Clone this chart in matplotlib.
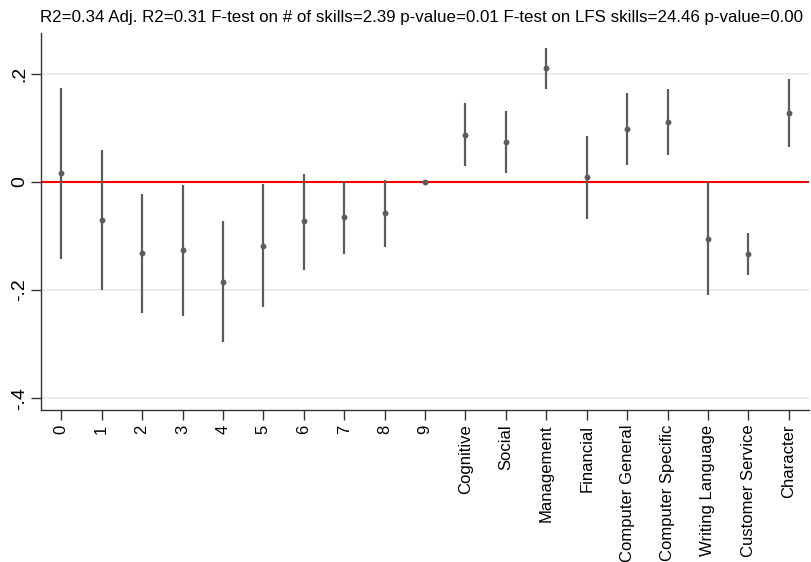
import matplotlib
matplotlib.use("Agg")
import matplotlib.pyplot as plt
import numpy as np

labels = ["0", "1", "2", "3", "4", "5", "6", "7", "8", "9",
          "Cognitive", "Social", "Management", "Financial",
          "Computer General", "Computer Specific", "Writing Language",
          "Customer Service", "Character"]
coef = [0.016, -0.070, -0.132, -0.126, -0.185, -0.118, -0.073, -0.065, -0.057, 0.0,
        0.087, 0.074, 0.211, 0.009, 0.098, 0.112, -0.106, -0.133, 0.128]
ci_low = [-0.143, -0.200, -0.243, -0.248, -0.296, -0.231, -0.162, -0.133, -0.120, 0.0,
          0.029, 0.016, 0.173, -0.068, 0.031, 0.050, -0.209, -0.172, 0.065]
ci_high = [0.175, 0.060, -0.022, -0.006, -0.073, -0.004, 0.014, 0.002, 0.004, 0.0,
           0.146, 0.131, 0.248, 0.085, 0.164, 0.173, 0.0, -0.095, 0.191]
yticks = [-0.4, -0.2, 0, 0.2]
ytick_labels = ["-.4", "-.2", "0", ".2"]
title = ("R2=0.34 Adj. R2=0.31 F-test on # of skills=2.39 p-value=0.01 "
         "F-test on LFS skills=24.46 p-value=0.00")

plt.rcParams["font.family"] = ["Liberation Sans", "DejaVu Sans"]

fig = plt.figure(figsize=(8.11, 5.62), dpi=100)
ax = fig.add_axes([0.0506, 0.2705, 0.947, 0.6708])

x = np.arange(len(labels))
for yv in yticks:
    ax.axhline(yv, color="#e8e8e8", lw=1.2, zorder=0)
ax.axhline(0, color="red", lw=1.5, zorder=1)

# coefficient estimates with their confidence intervals
ax.vlines(x, ci_low, ci_high, color="#5c5c5c", lw=1.6, zorder=2)
ax.plot(x, coef, "o", color="#5c5c5c", ms=3.2, zorder=3)

ax.set_xlim(-0.5, 18.5)
ax.set_ylim(-0.422, 0.276)
ax.set_xticks(x)
ax.set_xticklabels(labels, rotation=90, fontsize=12)
ax.set_yticks(yticks)
ax.set_yticklabels(ytick_labels, rotation=90, va="center", fontsize=14)
ax.tick_params(axis="x", direction="out", length=7, width=1, color="#333333")
ax.tick_params(axis="y", direction="out", length=7, width=1, color="#333333", pad=2)

for side in ["top", "right"]:
    ax.spines[side].set_visible(False)
for side in ["left", "bottom"]:
    ax.spines[side].set_color("#333333")
    ax.spines[side].set_linewidth(1)

fig.text(0.049, 0.968, title, fontsize=12.15, ha="left", va="center")

fig.savefig("out.png", dpi=100)
